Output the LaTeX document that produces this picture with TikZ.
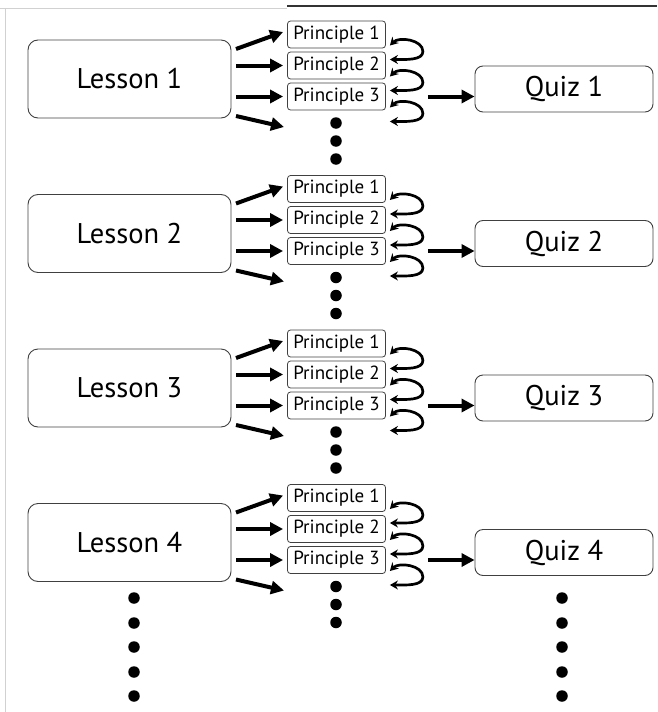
\documentclass[tikz,border=0pt]{standalone}
\usepackage{fontspec}
\setmainfont{PT Sans}
\usetikzlibrary{arrows.meta,calc}
\tikzset{
  lesson/.style={draw=black!75, line width=0.9pt, rounded corners=10pt, minimum width=203pt, minimum height=78pt, inner sep=0pt, font=\fontsize{28.5}{30}\selectfont},
  quiz/.style={draw=black!75, line width=0.9pt, rounded corners=8pt, minimum width=178pt, minimum height=46pt, inner sep=0pt, font=\fontsize{28.5}{30}\selectfont},
  princ/.style={draw=black!75, line width=0.8pt, rounded corners=3pt, minimum width=98pt, minimum height=27pt, inner sep=0pt, font=\fontsize{19}{20}\selectfont},
  bigarrow/.style={line width=4pt, -{Triangle[length=13pt,width=13pt]}},
  looparrow/.style={line width=2.7pt, {Stealth[length=8pt,width=9pt]}-{Stealth[length=8pt,width=9pt]}},
  bigdot/.style={circle, fill=black, minimum size=11.5pt, inner sep=0pt},
  frameline/.style={draw=black!18, line width=1pt},
}
\begin{document}
\begin{tikzpicture}[x=1pt,y=-1pt]
\useasboundingbox (0,0) rectangle (657,712);
% frame lines
\draw[frameline] (0,8) -- (287,8);
\draw[frameline] (5,8) -- (5,712);
\draw[black!80, line width=1.5pt] (287,6) -- (657,6);
\foreach \g in {1,...,4}{
  \pgfmathsetmacro\dy{(\g-1)*154.5}
  \node[lesson] (L\g) at (129.5,{79+\dy}) {Lesson \g};
  \node[princ] (P\g a) at (336.5,{34.5+\dy}) {Principle 1};
  \node[princ] (P\g b) at (336.5,{65.5+\dy}) {Principle 2};
  \node[princ] (P\g c) at (336.5,{96.5+\dy}) {Principle 3};
  \node[quiz] (Q\g) at (564,{89+\dy}) {Quiz \g};
  \node[bigdot] (D\g a) at (336,{123+\dy}) {};
  \node[bigdot] (D\g b) at (336,{141+\dy}) {};
  \node[bigdot] (D\g c) at (336,{159+\dy}) {};
  % arrows lesson -> principles
  \coordinate (S\g a) at (236,{49+\dy});
  \coordinate (S\g b) at (236,{65.5+\dy});
  \coordinate (S\g c) at (236,{96.5+\dy});
  \coordinate (S\g d) at (236,{116+\dy});
  \coordinate (E\g d) at (284,{127+\dy});
  \draw[bigarrow] (S\g a) -- ([shift={(-4,-2.5)}]P\g a.west);
  \draw[bigarrow] (S\g b) -- ([xshift=-4]P\g b.west);
  \draw[bigarrow] (S\g c) -- ([xshift=-4]P\g c.west);
  \draw[bigarrow] (S\g d) -- (E\g d);
  % loops
  \foreach \p in {a,b,c}{
    \draw[looparrow] ($(P\g\p.east)+(4,11)$) .. controls +(9,-9) and +(0,-12) .. ($(P\g\p.east)+(37,17)$)
       .. controls +(0,9) and +(16,0) .. ($(P\g\p.east)+(4,25)$);
  }
  % arrow to quiz
  \draw[bigarrow] ([xshift=42]P\g c.east) -- (Q\g.west |- P\g c.east);
}
% bottom dots
\foreach \y [count=\i] in {598,623,647,672,696}{
  \node[bigdot] (BL\i) at (134,\y) {};
  \node[bigdot] (BR\i) at (562,\y) {};
}
\end{tikzpicture}
\end{document}
